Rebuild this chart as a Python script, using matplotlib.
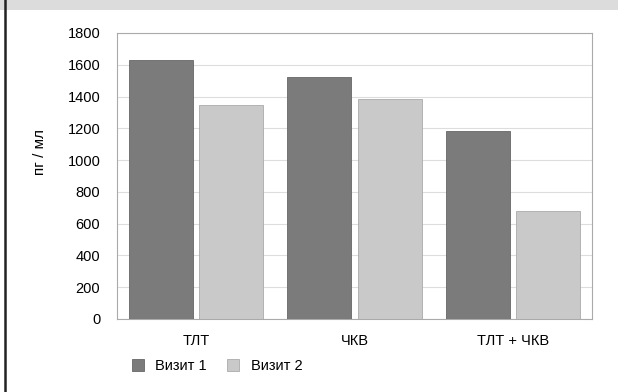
import matplotlib
matplotlib.use('Agg')
import matplotlib.pyplot as plt
import numpy as np
from matplotlib.patches import Rectangle
from matplotlib.lines import Line2D

plt.rcParams['font.family'] = ['Liberation Sans', 'DejaVu Sans']

# Data
categories = ['ТЛТ', 'ЧКВ', 'ТЛТ + ЧКВ']
visit1 = [1630, 1520, 1185]
visit2 = [1345, 1385, 680]
series_names = ['Визит 1', 'Визит 2']
yticks = [0, 200, 400, 600, 800, 1000, 1200, 1400, 1600, 1800]

dark = '#7b7b7b'
light = '#c9c9c9'
fs = 10.5

fig = plt.figure(figsize=(6.18, 3.92), dpi=100)

# grey band at the top and dark rule at the left edge
fig.patches.append(Rectangle((0, 1 - 10 / 392), 1, 10 / 392, transform=fig.transFigure,
                             facecolor='#dcdcdc', edgecolor='none', zorder=0))
fig.lines.append(Line2D([5 / 618, 5 / 618], [0, 1], transform=fig.transFigure,
                        color='#222222', linewidth=1.8))

ax = fig.add_axes([117 / 618, 1 - 319 / 392, 475 / 618, 286 / 392])

x = np.arange(len(categories))
w = 0.405
gap = 0.038
ax.bar(x - (w + gap) / 2, visit1, w, color=dark, edgecolor='#666666', linewidth=0.6,
       label=series_names[0], zorder=3)
ax.bar(x + (w + gap) / 2, visit2, w, color=light, edgecolor='#aaaaaa', linewidth=0.6,
       label=series_names[1], zorder=3)

ax.set_xlim(-0.5, len(categories) - 0.5)
ax.set_ylim(0, 1800)
ax.set_yticks(yticks)
ax.set_xticks(x)
ax.set_xticklabels(categories, fontsize=fs)
ax.tick_params(axis='y', labelsize=fs, length=0, pad=12)
ax.tick_params(axis='x', length=0, pad=11)
ax.yaxis.grid(True, color='#dddddd', linewidth=0.8, zorder=0)
for s in ax.spines.values():
    s.set_color('#aaaaaa')
    s.set_linewidth(0.8)

fig.text(40 / 618, 1 - 152 / 392, 'пг / мл', rotation=90, ha='center', va='center', fontsize=11)

ax.legend(loc='center left', bbox_to_anchor=(132 / 618, 1 - 366 / 392),
          bbox_transform=fig.transFigure, ncol=2, frameon=False, fontsize=fs,
          handlelength=0.8, handleheight=0.8, handletextpad=0.8, columnspacing=1.4,
          borderaxespad=0, borderpad=0)

fig.savefig('out.png', dpi=100, facecolor='white')
